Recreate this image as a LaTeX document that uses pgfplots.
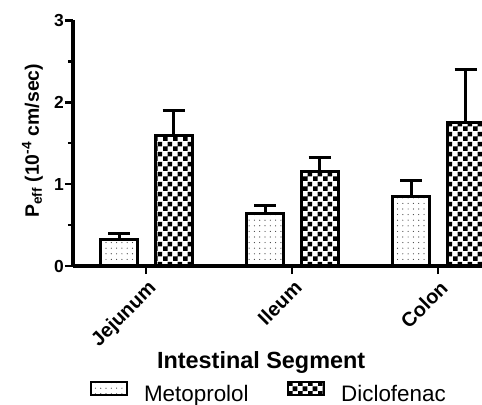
\documentclass[border=0pt]{standalone}
\usepackage{fontspec}
\setmainfont{Liberation Sans}
\usepackage{pgfplots}
\pgfplotsset{compat=1.18}
\usetikzlibrary{patterns}

\newcommand\yticfont{\fontsize{17.5}{20}\selectfont\bfseries}
\newcommand\xticfont{\fontsize{20}{23}\selectfont\bfseries}
\newcommand\xlabfont{\fontsize{23.5}{27}\selectfont\bfseries}
\newcommand\ylabfont{\fontsize{19.5}{22}\selectfont\bfseries}
\newcommand\legfont{\fontsize{22.5}{26}\selectfont}

\pgfdeclarepatternformonly{mydots}{\pgfqpoint{-1bp}{-1bp}}{\pgfqpoint{1bp}{1bp}}{\pgfqpoint{5.3bp}{5.6bp}}{\pgfpathcircle{\pgfpointorigin}{0.6bp}\pgfusepath{fill}}
\pgfdeclarepatternformonly{mychecker}{\pgfpointorigin}{\pgfqpoint{9.6bp}{9.6bp}}{\pgfqpoint{9.6bp}{9.6bp}}{\pgfpathrectangle{\pgfpointorigin}{\pgfqpoint{4.8bp}{4.8bp}}\pgfpathrectangle{\pgfqpoint{4.8bp}{4.8bp}}{\pgfqpoint{4.8bp}{4.8bp}}\pgfusepath{fill}}

\begin{document}
\begin{tikzpicture}
\useasboundingbox (0,0) rectangle (482bp,405bp);
\begin{axis}[
  at={(73bp,139bp)}, anchor=south west,
  scale only axis,
  width=409bp, height=245.5bp,
  xmin=-0.5, xmax=2.3, ymin=0, ymax=3,
  clip=true,
  axis x line=bottom, axis y line=left,
  axis line style={-, line width=3bp, black},
  tick align=outside,
  major tick length=8bp, minor tick length=5bp,
  every tick/.style={black, line width=2.5bp},
  xtick={0,1,2},
  xticklabels={Jejunum,Ileum,Colon},
  ytick={0,1,2,3},
  minor ytick={0.5,1.5,2.5},
  /pgf/number format/assume math mode=true,
  yticklabel style={font=\yticfont, inner sep=1bp},
  xticklabel style={font=\xticfont, rotate=45, anchor=north east, inner sep=1bp, xshift=-2bp, yshift=-3bp},
  xlabel={Intestinal Segment},
  xlabel style={font=\xlabfont, at={(rel axis cs:0.46,0)}, anchor=base, yshift=-102bp},
  ylabel={P\textsubscript{eff} (10\textsuperscript{-4} cm/sec)},
  ylabel style={font=\ylabfont, at={(rel axis cs:-0.0733,0.51)}, anchor=south, inner sep=0pt},
  ybar,
  bar width=37bp,
  legend columns=2,
  legend style={draw=none, fill=none, at={(rel axis cs:0.476,-0.566)}, anchor=south,
    font=\legfont, nodes={inner sep=0pt},
    /tikz/every odd column/.append style={column sep=16bp},
    /tikz/every even column/.append style={column sep=38bp}},
  legend cell align=left,
  legend image code/.code={\draw[#1, line width=2.5bp] (0bp,-1bp) rectangle (36bp,12bp);},
]
\addplot[draw=black, line width=3bp, pattern=mydots, pattern color=black!75, bar shift=-27bp,
  error bars/.cd, y dir=plus, y explicit,
  error bar style={line width=3bp, black, solid},
  error mark options={rotate=90, mark size=11bp, line width=3bp, black}]
  coordinates {(0,0.325) +- (0,0.075) (1,0.64) +- (0,0.095) (2,0.845) +- (0,0.205)};
\addlegendentry{Metoprolol}
\addplot[draw=black, line width=3bp, pattern=mychecker, pattern color=black, bar shift=27.5bp,
  error bars/.cd, y dir=plus, y explicit,
  error bar style={line width=3bp, black, solid},
  error mark options={rotate=90, mark size=11bp, line width=3bp, black}]
  coordinates {(0,1.59) +- (0,0.305) (1,1.15) +- (0,0.18) (2,1.75) +- (0,0.65)};
\addlegendentry{Diclofenac}
\end{axis}
\end{tikzpicture}
\end{document}
